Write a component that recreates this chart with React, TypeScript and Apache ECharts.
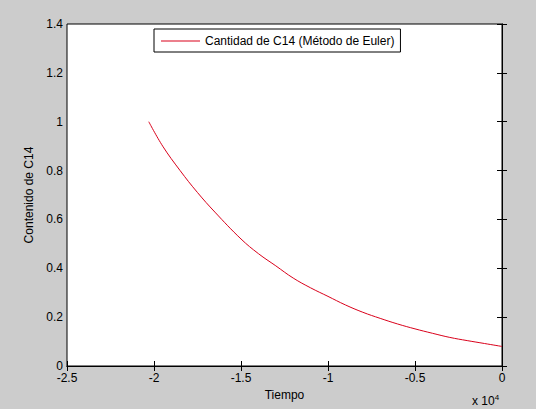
import React, { useEffect, useRef } from "react";
import * as echarts from "echarts";

// Time (years) and C14 content
const tiempo = [
  -20300, -19500, -18500, -17500, -16500, -15000, -14000, -13000, -12000, -11000,
  -10000, -9000, -8000, -7000, -6000, -5000, -4000, -3000, -2000, -1000, 0,
];
const contenido = [
  1.0, 0.9, 0.8, 0.71, 0.63, 0.52, 0.46, 0.41, 0.36, 0.32,
  0.285, 0.25, 0.22, 0.195, 0.172, 0.152, 0.134, 0.117, 0.104, 0.092, 0.08,
];
const seriesName = "Cantidad de C14 (Método de Euler)";
const xTicks = [-25000, 0, 5000];
const yTicks = [0, 1.4, 0.2];

const FONT = "'Liberation Sans', Arial, Helvetica, sans-serif";

export default function App() {
  const ref = useRef<HTMLDivElement>(null);
  useEffect(() => {
    if (!ref.current) return;
    const chart = echarts.init(ref.current, null, { renderer: "svg" });
    const data = tiempo.map((t, i) => [t, contenido[i]]);
    const axisCommon = {
      axisLine: { show: true, lineStyle: { color: "#000", width: 1 } },
      axisTick: { show: true, inside: true, length: 5, lineStyle: { color: "#000", width: 1 } },
      splitLine: { show: false },
    };
    chart.setOption({
      animation: false,
      backgroundColor: "#cccccc",
      textStyle: { fontFamily: FONT },
      grid: {
        left: 67,
        right: 34,
        top: 24,
        bottom: 43,
        show: true,
        backgroundColor: "#ffffff",
        borderColor: "#000",
        borderWidth: 1,
      },
      legend: {
        show: true,
        left: 154,
        top: 29,
        data: [{ name: seriesName, icon: "rect" }],
        itemWidth: 39,
        itemHeight: 1,
        padding: [5, 6, 4, 7],
        borderColor: "#000",
        borderWidth: 1,
        backgroundColor: "#ffffff",
        borderRadius: 0,
        textStyle: { fontFamily: FONT, fontSize: 12, color: "#000", lineHeight: 14 },
      },
      xAxis: [
        {
          type: "value",
          min: xTicks[0],
          max: xTicks[1],
          interval: xTicks[2],
          position: "bottom",
          name: "Tiempo",
          nameLocation: "middle",
          nameGap: 23,
          nameTextStyle: { fontFamily: FONT, fontSize: 12, color: "#000" },
          axisLabel: {
            margin: 6,
            fontFamily: FONT,
            fontSize: 12,
            lineHeight: 12,
            color: "#000",
            formatter: (v: number) => String(v / 10000),
          },
          ...axisCommon,
        },
        {
          type: "value",
          min: xTicks[0],
          max: xTicks[1],
          interval: xTicks[2],
          position: "top",
          axisLabel: { show: false },
          ...axisCommon,
        },
      ],
      yAxis: [
        {
          type: "value",
          min: yTicks[0],
          max: yTicks[1],
          interval: yTicks[2],
          position: "left",
          name: "Contenido de C14",
          nameLocation: "middle",
          nameGap: 31,
          nameTextStyle: { fontFamily: FONT, fontSize: 12, color: "#000" },
          axisLabel: {
            margin: 4,
            fontFamily: FONT,
            fontSize: 12,
            lineHeight: 10,
            color: "#000",
            formatter: (v: number) => String(Math.round(v * 10) / 10),
          },
          ...axisCommon,
        },
        {
          type: "value",
          min: yTicks[0],
          max: yTicks[1],
          interval: yTicks[2],
          position: "right",
          axisLabel: { show: false },
          ...axisCommon,
        },
      ],
      graphic: [
        {
          type: "text",
          left: 472,
          top: 393,
          style: {
            text: "x 10{sup|4}",
            fontFamily: FONT,
            fontSize: 12,
            fill: "#000",
            rich: {
              sup: { fontSize: 8, verticalAlign: "top", padding: [0, 0, 8, 0], fontFamily: FONT, fill: "#000" },
            },
          },
        },
      ],
      series: [
        {
          name: seriesName,
          type: "line",
          data,
          showSymbol: false,
          symbol: "none",
          smooth: 0.4,
          lineStyle: { color: "#d9001b", width: 1 },
          itemStyle: { color: "#d9001b" },
        },
      ],
    });
    return () => chart.dispose();
  }, []);
  return (
    <div
      ref={ref}
      style={{ position: "fixed", left: 0, top: 0, width: 536, height: 409 }}
    />
  );
}
